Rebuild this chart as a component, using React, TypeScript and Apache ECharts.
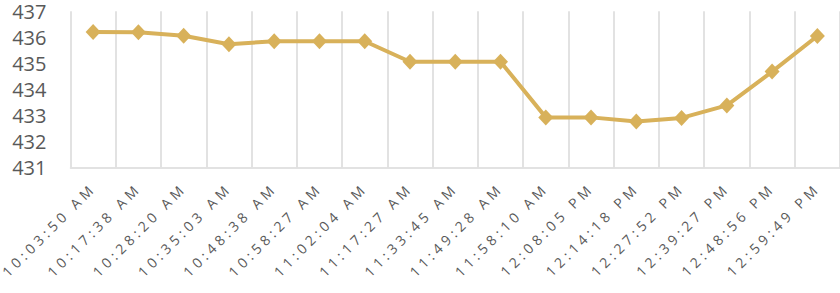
import React, { useEffect, useRef } from "react";
import * as echarts from "echarts";

const categories: string[] = [
  "10:03:50 AM",
  "10:17:38 AM",
  "10:28:20 AM",
  "10:35:03 AM",
  "10:48:38 AM",
  "10:58:27 AM",
  "11:02:04 AM",
  "11:17:27 AM",
  "11:33:45 AM",
  "11:49:28 AM",
  "11:58:10 AM",
  "12:08:05 PM",
  "12:14:18 PM",
  "12:27:52 PM",
  "12:39:27 PM",
  "12:48:56 PM",
  "12:59:49 PM",
];

const values: number[] = [
  436.2, 436.19, 436.06, 435.73, 435.85, 435.85, 435.85, 435.06, 435.06,
  435.06, 432.92, 432.92, 432.76, 432.9, 433.38, 434.68, 436.05,
];

const yMin = 431;
const yMax = 437;
const yInterval = 1;

const LINE_COLOR = "#D8B15A";
const GRID_COLOR = "#D9D9D9";
const TEXT_COLOR = "#595959";

export default function App() {
  const ref = useRef<HTMLDivElement>(null);

  useEffect(() => {
    if (!ref.current) return;
    const chart = echarts.init(ref.current, undefined, { renderer: "svg" });

    const applySpacing = () => {
      if (!ref.current) return;
      const texts = ref.current.querySelectorAll("text");
      texts.forEach((t) => {
        const s = t.textContent || "";
        if (/AM|PM/.test(s)) {
          (t as SVGTextElement).style.letterSpacing = "4.1px";
        }
      });
    };

    chart.setOption({
      animation: false,
      backgroundColor: "#ffffff",
      grid: {
        left: 70.5,
        top: 11.3,
        width: 774,
        height: 156,
        containLabel: false,
      },
      xAxis: {
        type: "category",
        data: categories,
        boundaryGap: true,
        axisLine: { show: true, lineStyle: { color: GRID_COLOR, width: 1.5 } },
        axisTick: { show: false },
        splitLine: { show: true, lineStyle: { color: GRID_COLOR, width: 1.5 } },
        axisLabel: {
          interval: 0,
          rotate: 45,
          margin: 18,
          fontFamily: "Open Sans",
          fontSize: 14,
          lineHeight: 16,
          color: TEXT_COLOR,
        },
      },
      yAxis: {
        type: "value",
        min: yMin,
        max: yMax,
        interval: yInterval,
        axisLine: { show: false },
        axisTick: { show: false },
        splitLine: { show: false },
        axisLabel: {
          margin: 24,
          fontFamily: "Open Sans",
          fontSize: 20,
          lineHeight: 20,
          color: TEXT_COLOR,
        },
      },
      series: [
        {
          type: "line",
          data: values,
          symbol: "diamond",
          symbolSize: [15, 16],
          showSymbol: true,
          lineStyle: { color: LINE_COLOR, width: 4 },
          itemStyle: { color: LINE_COLOR },
        },
      ],
    });

    applySpacing();
    chart.on("finished", applySpacing);
    chart.on("rendered", applySpacing);

    return () => {
      chart.dispose();
    };
  }, []);

  return (
    <div
      ref={ref}
      style={{ position: "fixed", left: 0, top: 0, width: 840, height: 293 }}
    />
  );
}
